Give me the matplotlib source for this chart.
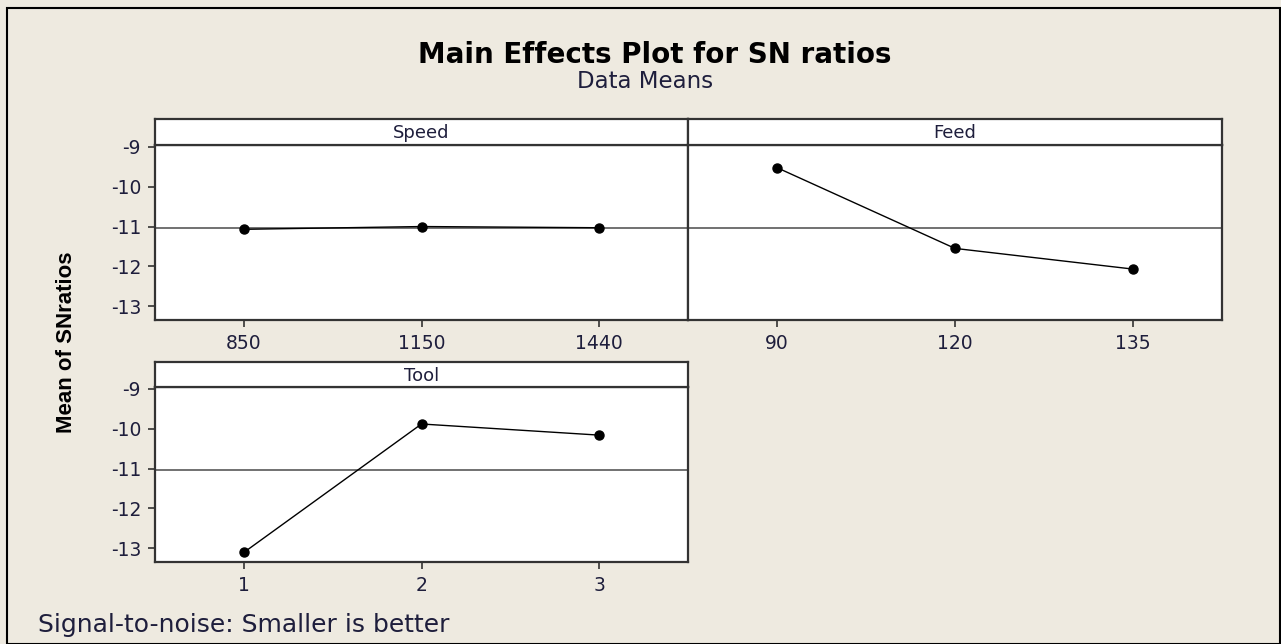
import numpy as np
import matplotlib.pyplot as plt
from matplotlib.patches import Rectangle

plt.rcParams['axes.unicode_minus'] = False

# Data
speed_labels = ['850', '1150', '1440']
speed_sn = [-11.07, -11.00, -11.03]

feed_labels = ['90', '120', '135']
feed_sn = [-9.52, -11.55, -12.07]

tool_labels = ['1', '2', '3']
tool_sn = [-13.11, -9.88, -10.16]

grand_mean = -11.04

bg = '#eeeae0'
txt = '#1e1e3c'
W, H = 1281, 644

fig = plt.figure(figsize=(W / 100, H / 100), dpi=100, facecolor=bg)

# outer frame
fig.add_artist(Rectangle((7 / W, 0), (1280 - 7) / W, 1 - 8 / H, transform=fig.transFigure,
                         fill=False, edgecolor='black', linewidth=1.5))


def box(x0, y0, x1, y1):
    return [x0 / W, 1 - y1 / H, (x1 - x0) / W, (y1 - y0) / H]


def panel(x0, x1, ystrip, ytop, ybot, name, labels, values, yticks):
    ax = fig.add_axes(box(x0, ytop, x1, ybot))
    ax.set_facecolor('white')
    x = np.arange(1, len(values) + 1)
    ax.axhline(grand_mean, color='#4a4a4a', linewidth=1.1, zorder=1)
    ax.plot(x, values, color='black', linewidth=1.0, marker='o', markersize=6.5, zorder=3)
    ax.set_xlim(0.5, 3.5)
    ax.set_ylim(-13.35, -8.95)
    ax.set_xticks(x)
    ax.set_xticklabels(labels)
    ax.tick_params(axis='both', direction='out', length=5, width=1.2, color='#333333',
                   labelsize=13.5, labelcolor=txt, pad=5)
    if yticks:
        ax.set_yticks([-9, -10, -11, -12, -13])
    else:
        ax.set_yticks([])
    for s in ax.spines.values():
        s.set_linewidth(1.6)
        s.set_color('#333333')

    st = fig.add_axes(box(x0, ystrip, x1, ytop))
    st.set_facecolor('white')
    st.set_xticks([])
    st.set_yticks([])
    for s in st.spines.values():
        s.set_linewidth(1.6)
        s.set_color('#333333')
    st.text(0.5, 0.45, name, ha='center', va='center', fontsize=13, color=txt,
            transform=st.transAxes)
    return ax


panel(155, 688, 119, 145, 320, 'Speed', speed_labels, speed_sn, True)
panel(688, 1222, 119, 145, 320, 'Feed', feed_labels, feed_sn, False)
panel(155, 688, 362, 387, 562, 'Tool', tool_labels, tool_sn, True)

fig.text(655 / W, 1 - 63 / H, 'Main Effects Plot for SN ratios', ha='center', va='baseline',
         fontsize=20, fontweight='bold', color='black')
fig.text(645 / W, 1 - 88 / H, 'Data Means', ha='center', va='baseline',
         fontsize=16.5, color=txt)
fig.text(67 / W, 1 - 342 / H, 'Mean of SNratios', ha='center', va='center', rotation=90,
         fontsize=16, fontweight='bold', color='black',
         family=['Liberation Sans Narrow', 'Liberation Sans', 'DejaVu Sans'])
fig.text(38 / W, 1 - 632 / H, 'Signal-to-noise: Smaller is better', ha='left', va='baseline',
         fontsize=18, color=txt)

fig.savefig('out.png', dpi=100, facecolor=bg)
